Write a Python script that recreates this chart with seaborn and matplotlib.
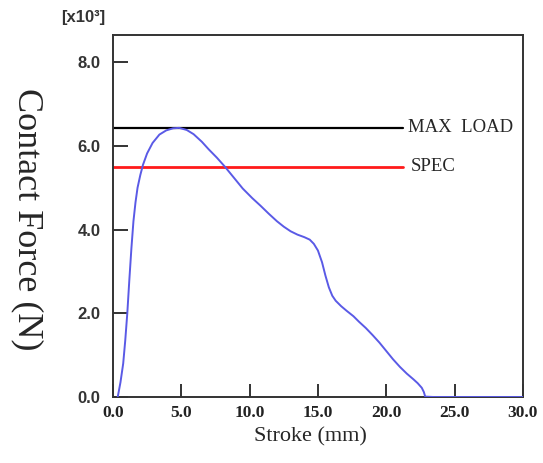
import matplotlib
matplotlib.use("Agg")
import matplotlib.pyplot as plt
import seaborn as sns
import pandas as pd

# Stroke (mm) and contact force (x10^3 N)
stroke = [0.35, 0.55, 0.75, 0.9, 1.05, 1.2, 1.35, 1.5, 1.65, 1.8, 2.0, 2.2, 2.5,
          2.9, 3.4, 3.9, 4.4, 4.85, 5.4, 5.9, 6.5, 7.0, 7.6, 8.2, 8.9, 9.5,
          10.2, 10.8, 11.4, 12.0, 12.5, 13.0, 13.5, 14.0, 14.4, 14.7, 15.0,
          15.3, 15.55, 15.8, 16.05, 16.3, 16.7, 17.1, 17.6, 18.0, 18.5, 19.0,
          19.5, 20.0, 20.5, 21.0, 21.5, 22.0, 22.3, 22.6, 22.75, 22.85, 23.5,
          25.0, 27.0, 30.0]
force = [0.0, 0.35, 0.8, 1.35, 2.0, 2.8, 3.55, 4.2, 4.65, 5.0, 5.3, 5.55, 5.82,
         6.07, 6.27, 6.37, 6.42, 6.43, 6.38, 6.28, 6.1, 5.92, 5.72, 5.5, 5.22, 4.98,
         4.75, 4.57, 4.38, 4.2, 4.07, 3.96, 3.88, 3.82, 3.76, 3.66, 3.5,
         3.22, 2.9, 2.62, 2.42, 2.3, 2.17, 2.06, 1.93, 1.8, 1.65, 1.48,
         1.3, 1.1, 0.9, 0.72, 0.56, 0.42, 0.33, 0.22, 0.12, 0.01, 0.0,
         0.0, 0.0, 0.0]

max_load = 6.43
spec = 5.5
ref_line_end = 21.2
x_ticks = [0, 5, 10, 15, 20, 25, 30]
y_ticks = [0, 2, 4, 6, 8]

sns.set_style("white")
plt.rcParams["font.family"] = ["Liberation Serif", "DejaVu Serif"]

fig = plt.figure(figsize=(5.43, 4.63), dpi=100)
ax = fig.add_axes([0.208, 0.1425, 0.755, 0.782])

df = pd.DataFrame({"Stroke": stroke, "Force": force})
sns.lineplot(data=df, x="Stroke", y="Force", ax=ax, color="#5a5ae6",
             linewidth=1.4, sort=False, estimator=None, zorder=3)

ax.plot([0, ref_line_end], [max_load, max_load], color="black", linewidth=1.6)
ax.plot([0, ref_line_end], [spec, spec], color="#ff1a1a", linewidth=2.0)
ax.text(21.6, max_load, "MAX  LOAD", fontsize=13.5, va="center", ha="left",
        family=["Liberation Serif"])
ax.text(21.8, spec, "SPEC", fontsize=13.5, va="center", ha="left",
        family=["Liberation Serif"])

ax.set_xlim(0, 30)
ax.set_ylim(0, 8.65)
ax.set_xticks(x_ticks)
ax.set_xticklabels([f"{v:.1f}" for v in x_ticks], fontsize=12.5,
                   fontweight="bold", family=["Liberation Serif"], color="#222222")
ax.set_yticks(y_ticks)
ax.set_yticklabels([f"{v:.1f}" for v in y_ticks], fontsize=12,
                   fontweight="bold", family=["Liberation Sans"], color="#333333")

ax.tick_params(axis="y", direction="in", length=11, width=1.4, pad=9,
               color="#333333", left=True, right=False)
ax.tick_params(axis="x", direction="in", length=9.5, width=1.4, pad=6,
               color="#333333", bottom=True, top=False)
for side, sp in ax.spines.items():
    sp.set_visible(True)
    sp.set_color("#333333")
    sp.set_linewidth(1.4)

ax.set_xlabel("")
ax.set_ylabel("")
fig.text(0.572, 0.056, "Stroke (mm)", fontsize=16, ha="center", va="center",
         family=["Liberation Serif"])
fig.text(0.05, 0.526, "Contact Force (N)", fontsize=26, rotation=270,
         ha="center", va="center", family=["Liberation Serif"])
fig.text(0.113, 0.962, "[x10³]", fontsize=12, fontweight="bold",
         ha="left", va="center", family=["Liberation Sans"], color="#333333")

fig.savefig("out.png", dpi=100)
